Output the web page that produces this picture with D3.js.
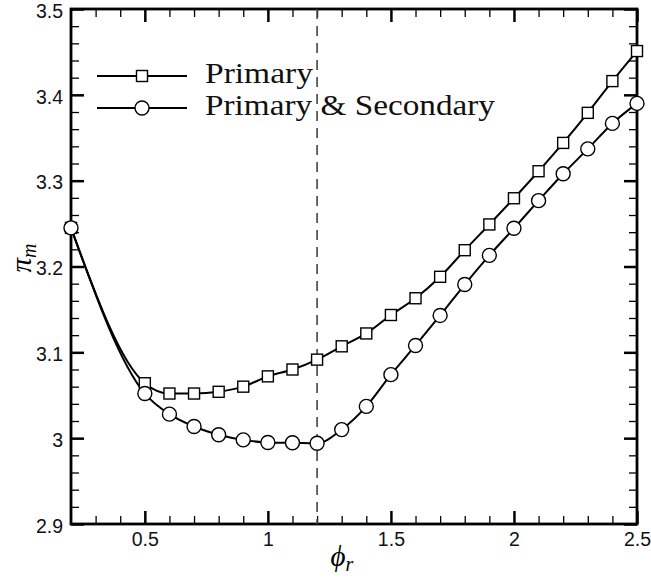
<!DOCTYPE html>
<html>
<head>
<meta charset="utf-8">
<script src="https://cdn.jsdelivr.net/npm/d3@7"></script>
<style>
  html, body { margin: 0; padding: 0; background: #fff; }
  svg { display: block; }
</style>
</head>
<body>
<svg id="chart" width="651" height="578"></svg>
<script>
// Mass-flow parameter against equivalence ratio
const phi = [0.2, 0.5, 0.6, 0.7, 0.8, 0.9, 1.0, 1.1, 1.2, 1.3, 1.4, 1.5,
             1.6, 1.7, 1.8, 1.9, 2.0, 2.1, 2.2, 2.3, 2.4, 2.5];
const primary = [3.245, 3.064, 3.052, 3.052, 3.054, 3.060, 3.072, 3.080, 3.0915, 3.107, 3.122, 3.1435,
                 3.163, 3.188, 3.219, 3.249, 3.2795, 3.311, 3.344, 3.379, 3.416, 3.451];
const primarySecondary = [3.245, 3.052, 3.028, 3.0136, 3.004, 2.998, 2.995, 2.9946, 2.994, 3.010, 3.037, 3.074,
                          3.108, 3.143, 3.179, 3.213, 3.2445, 3.2767, 3.308, 3.337, 3.3667, 3.390];
const seriesNames = ["Primary", "Primary & Secondary"];
const xTicks = [0.5, 1, 1.5, 2, 2.5];
const yTicks = [2.9, 3.0, 3.1, 3.2, 3.3, 3.4, 3.5];
const yTickLabels = ["2.9", "3", "3.1", "3.2", "3.3", "3.4", "3.5"];
const referencePhi = 1.2;

(function () {
  const svg = d3.select("#chart");
  const pLeft = 71, pRight = 637, pTop = 9, pBottom = 524;

  const x = d3.scaleLinear().domain([0.2, 2.5]).range([pLeft, pRight]);
  const y = d3.scaleLinear().domain([2.9, 3.5]).range([pBottom, pTop]);

  const xMinor = d3.range(3, 26).map(d => d / 10).filter(v => !xTicks.some(t => Math.abs(t - v) < 1e-9));
  const yMinor = d3.range(0, 31).map(d => 2.9 + d * 0.02)
    .filter(v => !yTicks.some(t => Math.abs(t - v) < 1e-9) && v < 3.5 - 1e-9);

  const tickFont = "Liberation Sans, Arial, sans-serif";

  function styleAxis(g, w) {
    g.select(".domain").remove();
    g.selectAll(".tick line").attr("stroke", "#000").attr("stroke-width", w);
    g.selectAll("text").attr("font-family", tickFont).attr("font-size", 19.5)
      .attr("font-weight", "normal").attr("fill", "#111");
  }

  // Bottom axis with labels, inward ticks
  svg.append("g").attr("transform", `translate(0,${pBottom})`)
    .call(d3.axisBottom(x).tickValues(xTicks).tickSize(-13).tickPadding(8).tickFormat(d3.format("")))
    .call(g => styleAxis(g, 2.5));
  svg.append("g").attr("transform", `translate(0,${pBottom})`)
    .call(d3.axisBottom(x).tickValues(xMinor).tickSize(-8).tickFormat(""))
    .call(g => styleAxis(g, 1.3));

  // Top axis (ticks only)
  svg.append("g").attr("transform", `translate(0,${pTop})`)
    .call(d3.axisTop(x).tickValues(xTicks).tickSize(-13).tickFormat(""))
    .call(g => styleAxis(g, 2.5));
  svg.append("g").attr("transform", `translate(0,${pTop})`)
    .call(d3.axisTop(x).tickValues(xMinor).tickSize(-8).tickFormat(""))
    .call(g => styleAxis(g, 1.3));

  // Left axis with labels
  svg.append("g").attr("transform", `translate(${pLeft},0)`)
    .call(d3.axisLeft(y).tickValues(yTicks).tickSize(-13).tickPadding(8)
      .tickFormat((d, i) => yTickLabels[i]))
    .call(g => styleAxis(g, 2.5))
    .call(g => g.selectAll("text").attr("dy", "0.42em"));
  svg.append("g").attr("transform", `translate(${pLeft},0)`)
    .call(d3.axisLeft(y).tickValues(yMinor).tickSize(-8).tickFormat(""))
    .call(g => styleAxis(g, 1.3));

  // Right axis (ticks only)
  svg.append("g").attr("transform", `translate(${pRight},0)`)
    .call(d3.axisRight(y).tickValues(yTicks).tickSize(-13).tickFormat(""))
    .call(g => styleAxis(g, 2.5));
  svg.append("g").attr("transform", `translate(${pRight},0)`)
    .call(d3.axisRight(y).tickValues(yMinor).tickSize(-8).tickFormat(""))
    .call(g => styleAxis(g, 1.3));

  // Frame
  svg.append("rect")
    .attr("x", pLeft).attr("y", pTop)
    .attr("width", pRight - pLeft).attr("height", pBottom - pTop)
    .attr("fill", "none").attr("stroke", "#000").attr("stroke-width", 2.8);

  // Reference line at phi_r = 1.2
  svg.append("line")
    .attr("x1", x(referencePhi)).attr("x2", x(referencePhi))
    .attr("y1", pTop).attr("y2", pBottom)
    .attr("stroke", "#444").attr("stroke-width", 1.6)
    .attr("stroke-dasharray", "10,7");

  const line = d3.line().curve(d3.curveMonotoneX).x(d => x(d[0])).y(d => y(d[1]));
  const primaryPts = phi.map((p, i) => [p, primary[i]]);
  const secondaryPts = phi.map((p, i) => [p, primarySecondary[i]]);

  svg.append("path").attr("d", line(primaryPts))
    .attr("fill", "none").attr("stroke", "#000").attr("stroke-width", 2);
  svg.append("path").attr("d", line(secondaryPts))
    .attr("fill", "none").attr("stroke", "#000").attr("stroke-width", 2);

  const sq = 11, rad = 7;
  svg.append("g").selectAll("rect").data(primaryPts).join("rect")
    .attr("x", d => x(d[0]) - sq / 2).attr("y", d => y(d[1]) - sq / 2)
    .attr("width", sq).attr("height", sq)
    .attr("fill", "#fff").attr("stroke", "#000").attr("stroke-width", 1.4);
  svg.append("g").selectAll("circle").data(secondaryPts).join("circle")
    .attr("cx", d => x(d[0])).attr("cy", d => y(d[1])).attr("r", rad)
    .attr("fill", "#fff").attr("stroke", "#000").attr("stroke-width", 1.4);

  // Legend
  const serif = "Liberation Serif, Times New Roman, serif";
  const legend = svg.append("g");
  const legendRows = [
    { name: seriesNames[0], y: 76, len: 108, marker: "square" },
    { name: seriesNames[1], y: 108, len: 290, marker: "circle" }
  ];
  legendRows.forEach(r => {
    legend.append("line").attr("x1", 97).attr("x2", 187).attr("y1", r.y).attr("y2", r.y)
      .attr("stroke", "#000").attr("stroke-width", 2);
    if (r.marker === "square") {
      legend.append("rect").attr("x", 142 - sq / 2).attr("y", r.y - sq / 2)
        .attr("width", sq).attr("height", sq)
        .attr("fill", "#fff").attr("stroke", "#000").attr("stroke-width", 1.4);
    } else {
      legend.append("circle").attr("cx", 142).attr("cy", r.y).attr("r", rad)
        .attr("fill", "#fff").attr("stroke", "#000").attr("stroke-width", 1.4);
    }
    legend.append("text").attr("x", 205).attr("y", r.y + 7)
      .attr("font-family", serif).attr("font-size", 30).attr("fill", "#111")
      .attr("textLength", r.len).attr("lengthAdjust", "spacingAndGlyphs")
      .text(r.name);
  });

  // Axis titles
  const xt = svg.append("text").attr("x", 342).attr("y", 566)
    .attr("text-anchor", "middle").attr("font-family", serif).attr("font-style", "italic");
  xt.append("tspan").attr("font-size", 29).text("ϕ");
  xt.append("tspan").attr("font-size", 20).attr("dy", 5).text("r");

  const yt = svg.append("text").attr("transform", "translate(31,258) rotate(-90)")
    .attr("text-anchor", "middle").attr("font-family", serif).attr("font-style", "italic");
  yt.append("tspan").attr("font-size", 29).text("π");
  yt.append("tspan").attr("font-size", 20).attr("dy", 5).text("m");
})();
</script>
</body>
</html>
